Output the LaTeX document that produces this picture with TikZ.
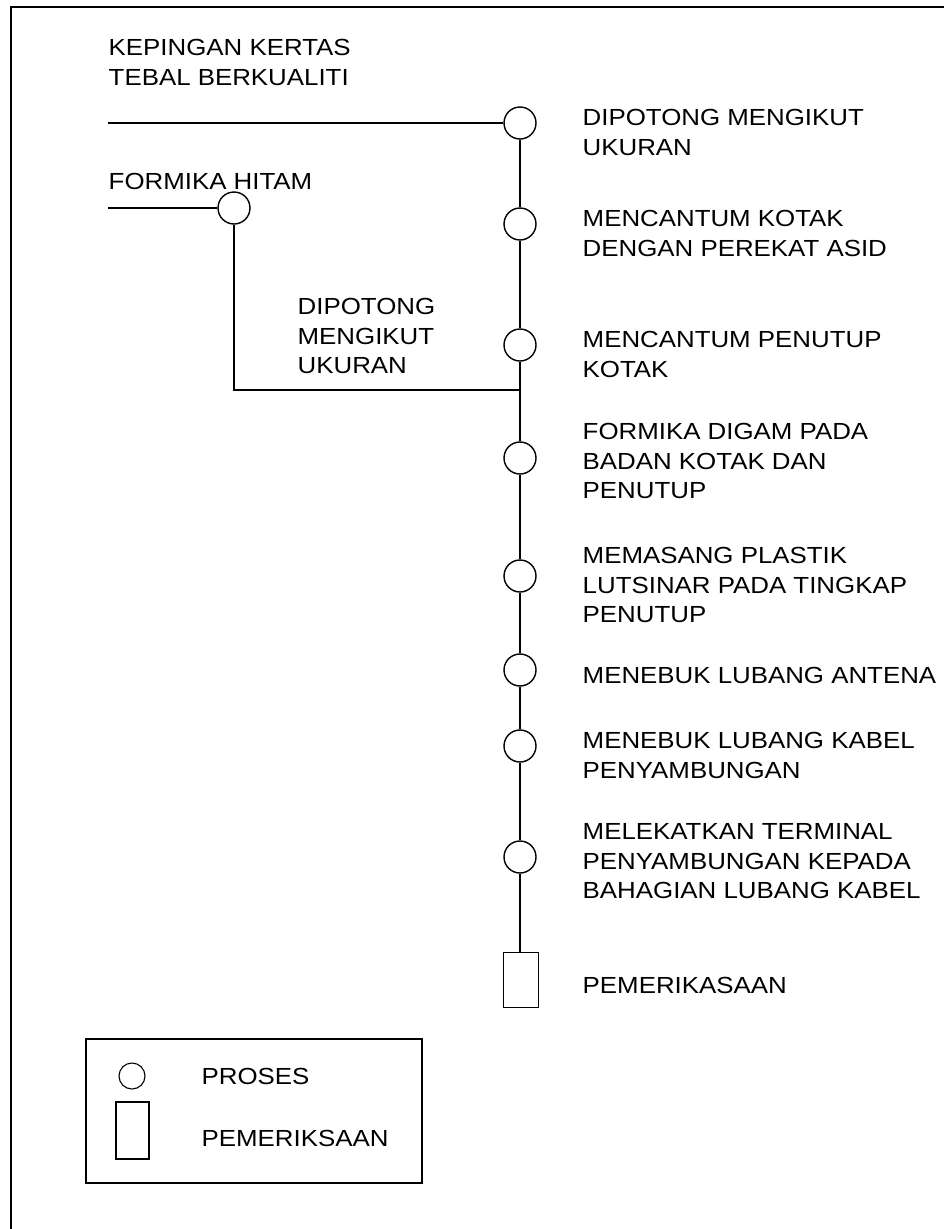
\documentclass[tikz,border=0pt]{standalone}
\usepackage{fontspec}
\setmainfont{Liberation Sans}[FakeStretch=1.11]
\begin{document}
\begin{tikzpicture}[x=1pt,y=-1pt,
  line width=1.4pt,
  proc/.style={draw, circle, inner sep=0pt, minimum size=32pt},
  smallproc/.style={draw, circle, inner sep=0pt, minimum size=26pt},
  insp/.style={draw, rectangle, inner sep=0pt, minimum width=35pt, minimum height=55pt},
  smallinsp/.style={draw, rectangle, inner sep=0pt, minimum width=33pt, minimum height=57pt},
  lbl/.style={anchor=north west, inner sep=0pt, align=left, font=\fontsize{23.3}{29.5}\selectfont},
  framebox/.style={line width=1.8pt},
  legendbox/.style={draw, rectangle, inner sep=0pt, minimum width=336pt, minimum height=144pt}
]
\useasboundingbox (0,0) rectangle (944,1229);

% frame
\coordinate (ftr) at (944,7);
\coordinate (ftl) at (11,7);
\coordinate (fbl) at (11,1229);
\draw[framebox] (ftr) -- (ftl) -- (fbl);

% inputs
\node[lbl] (tKep) at (108,39) {KEPINGAN KERTAS\\TEBAL BERKUALITI};
\node[lbl] (tFor) at (108,173) {FORMIKA HITAM};
\coordinate (kin) at (108,123);
\coordinate (fin) at (108,208);

% left branch
\node[proc] (fc) at (234,208) {};
\node[lbl] (tFc) at (297,298) {DIPOTONG\\MENGIKUT\\UKURAN};
\coordinate (j) at (520,390);

% main line
\node[proc] (c1) at (520,123) {};
\node[proc] (c2) at (520,224) {};
\node[proc] (c3) at (520,345) {};
\node[proc] (c4) at (520,458) {};
\node[proc] (c5) at (520,576) {};
\node[proc] (c6) at (520,670) {};
\node[proc] (c7) at (520,746) {};
\node[proc] (c8) at (520,857) {};
\node[insp] (r1) at (521,980) {};

\node[lbl] (t1) at (582,109) {DIPOTONG MENGIKUT\\UKURAN};
\node[lbl] (t2) at (582,210) {MENCANTUM KOTAK\\DENGAN PEREKAT ASID};
\node[lbl] (t3) at (582,331) {MENCANTUM PENUTUP\\KOTAK};
\node[lbl] (t4) at (582,423) {FORMIKA DIGAM PADA\\BADAN KOTAK DAN\\PENUTUP};
\node[lbl] (t5) at (582,547) {MEMASANG PLASTIK\\LUTSINAR PADA TINGKAP\\PENUTUP};
\node[lbl] (t6) at (582,667) {MENEBUK LUBANG ANTENA};
\node[lbl] (t7) at (582,732) {MENEBUK LUBANG KABEL\\PENYAMBUNGAN};
\node[lbl] (t8) at (582,823) {MELEKATKAN TERMINAL\\PENYAMBUNGAN KEPADA\\BAHAGIAN LUBANG KABEL};
\node[lbl] (t9) at (582,977) {PEMERIKASAAN};

% connectors
\draw (kin) -- (c1);
\draw (fin) -- (fc);
\draw (fc) |- (j);
\draw (c1) -- (c2) -- (c3) -- (c4) -- (c5) -- (c6) -- (c7) -- (c8) -- (r1.north -| c8);

% legend
\node[legendbox, line width=1.1pt] (leg) at (254,1111) {};
\node[smallproc, line width=1.1pt] (lc) at (132,1076) {};
\node[smallinsp, line width=1.1pt] (lr) at (132.5,1130.5) {};
\node[lbl] (lt1) at (201,1068) {PROSES};
\node[lbl] (lt2) at (201,1130) {PEMERIKSAAN};
\end{tikzpicture}
\end{document}
